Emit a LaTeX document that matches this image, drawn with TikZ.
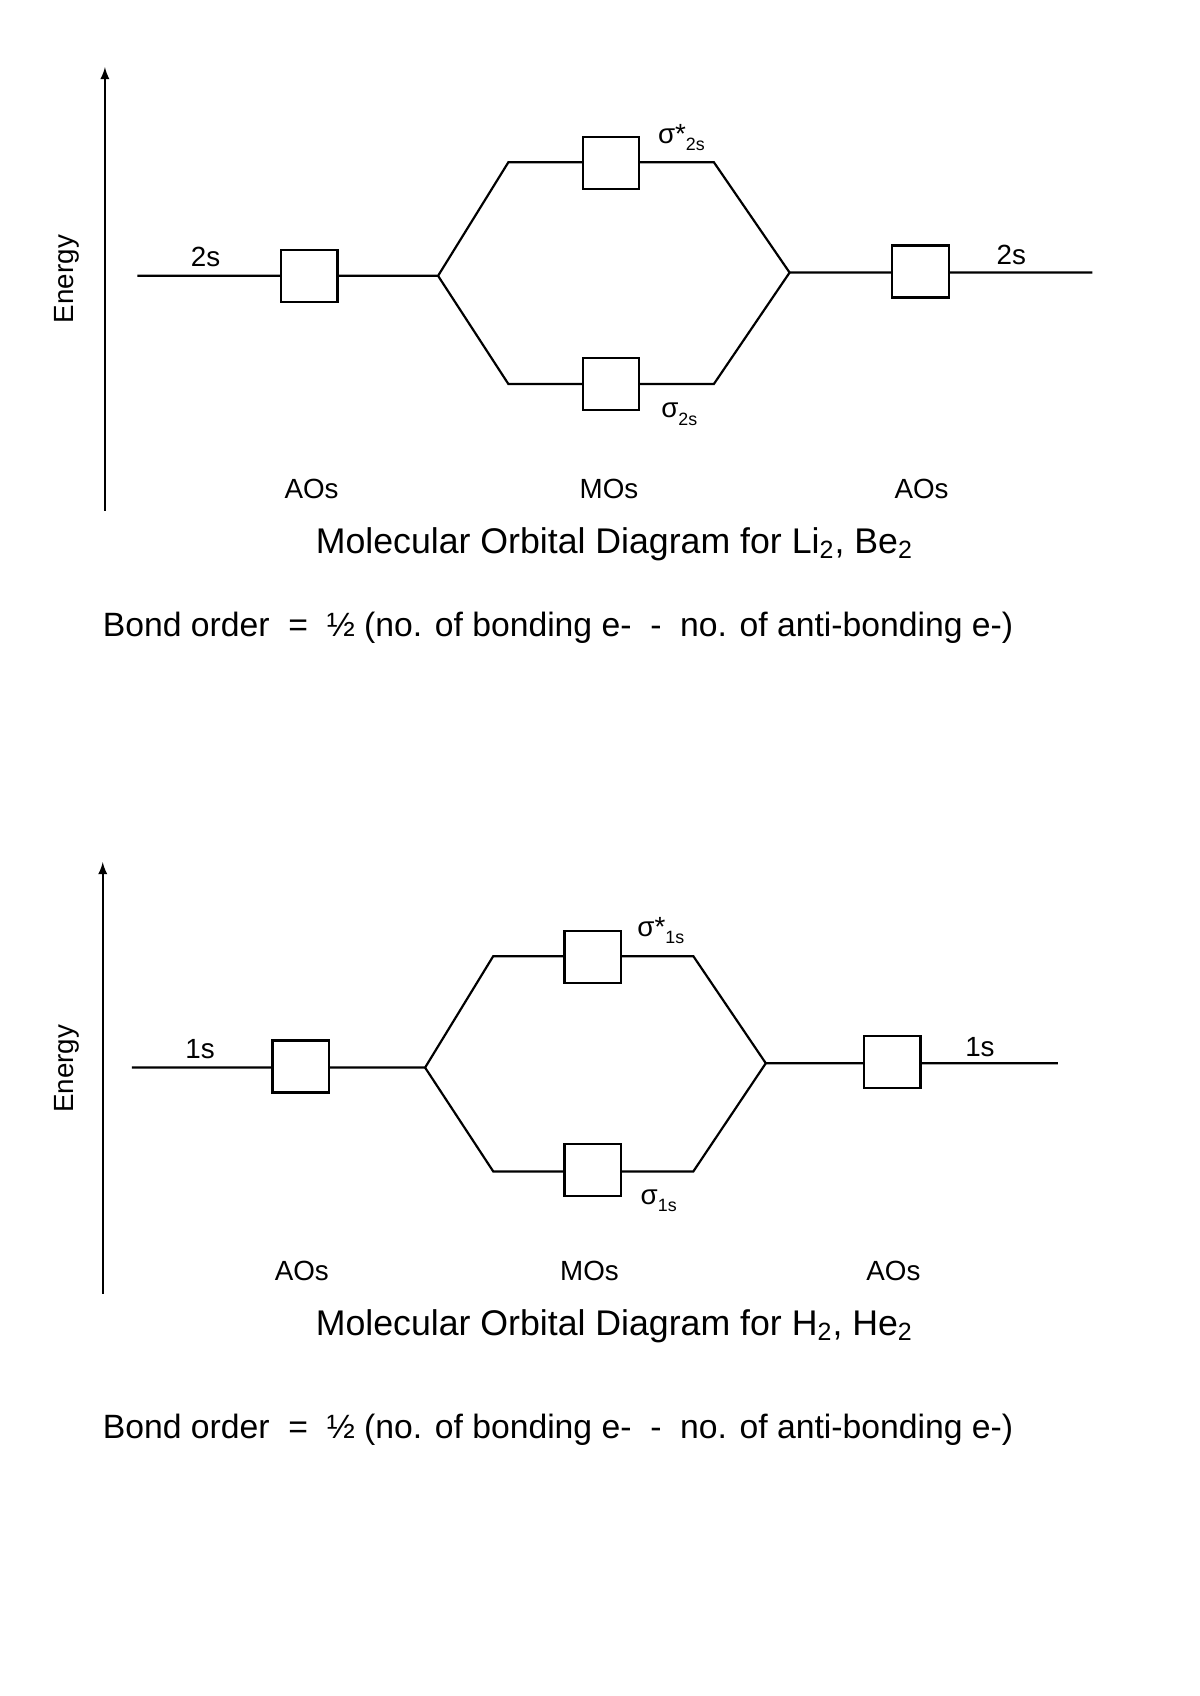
\documentclass[tikz,border=0pt]{standalone}
\usepackage{fontspec}
\setmainfont{Liberation Sans}
\newcommand{\orbsub}[1]{\raisebox{-0.5ex}{\fontsize{9}{10}\selectfont #1}}
\begin{document}
\begin{tikzpicture}[x=0.5455pt,y=-0.5455pt,line width=1.1pt,
  orb/.style={draw,fill=white,minimum width=28.4pt,minimum height=26.2pt,inner sep=0pt},
  lbl/.style={font=\fontsize{14}{17}\selectfont},
  ttl/.style={font=\fontsize{18}{22}\selectfont},
  bnd/.style={font=\fontsize{17}{20}\selectfont}]
\useasboundingbox (0,0) rectangle (1109,1568);
% top diagram
\coordinate (ebot) at (97,472);
\coordinate (etop) at (97,62);
\draw[-latex] (ebot) -- (etop);
\node[lbl,rotate=90] (energy) at (62,258) {Energy};
\coordinate (l0) at (127,255);
\coordinate (lj) at (405,255);
\coordinate (ua) at (470,150);
\coordinate (ub) at (660,150);
\coordinate (da) at (470,355);
\coordinate (db) at (660,355);
\coordinate (rj) at (730,252);
\coordinate (r0) at (1010,252);
\draw (l0) -- (lj) -- (ua) -- (ub) -- (rj) -- (r0);
\draw (lj) -- (da) -- (db) -- (rj);
\node[orb] (ao1) at (286,255) {};
\node[orb] (mo1) at (565,151) {};
\node[orb] (mo2) at (565,355) {};
\node[orb] (ao2) at (851,251) {};
\node[lbl] (s1) at (190,238) {2s};
\node[lbl] (s2) at (935,236) {2s};
\node[lbl] (sa) at (630,127) {σ*\orbsub{2s}};
\node[lbl] (sb) at (628,383) {σ\orbsub{2s}};
\node[lbl] (aoa) at (288,452) {AOs};
\node[lbl] (moa) at (563,452) {MOs};
\node[lbl] (aob) at (852,452) {AOs};
\node[ttl] (t1) at (568,503) {Molecular Orbital Diagram for Li\textsubscript{2}, Be\textsubscript{2}};
\node[bnd,anchor=west] (b1) at (88,580) {Bond order \ = \ ½ (no. of bonding e- \ - \ no. of anti-bonding e-)};
% bottom diagram
\coordinate (fbot) at (95,1196);
\coordinate (ftop) at (95,797);
\draw[-latex] (fbot) -- (ftop);
\node[lbl,rotate=90] (energy2) at (62,988) {Energy};
\coordinate (m0) at (122,987);
\coordinate (mj) at (393,987);
\coordinate (va) at (456,884);
\coordinate (vb) at (641,884);
\coordinate (wa) at (456,1083);
\coordinate (wb) at (641,1083);
\coordinate (nj) at (708,983);
\coordinate (n0) at (978,983);
\draw (m0) -- (mj) -- (va) -- (vb) -- (nj) -- (n0);
\draw (mj) -- (wa) -- (wb) -- (nj);
\node[orb] (ao3) at (278,986) {};
\node[orb] (mo3) at (548,885) {};
\node[orb] (mo4) at (548,1082) {};
\node[orb] (ao4) at (825,982) {};
\node[lbl] (s3) at (185,970) {1s};
\node[lbl] (s4) at (906,968) {1s};
\node[lbl] (sc) at (611,860) {σ*\orbsub{1s}};
\node[lbl] (sd) at (609,1110) {σ\orbsub{1s}};
\node[lbl] (aoc) at (279,1175) {AOs};
\node[lbl] (moc) at (545,1175) {MOs};
\node[lbl] (aod) at (826,1175) {AOs};
\node[ttl] (t2) at (568,1226) {Molecular Orbital Diagram for H\textsubscript{2}, He\textsubscript{2}};
\node[bnd,anchor=west] (b2) at (88,1322) {Bond order \ = \ ½ (no. of bonding e- \ - \ no. of anti-bonding e-)};
\end{tikzpicture}
\end{document}
